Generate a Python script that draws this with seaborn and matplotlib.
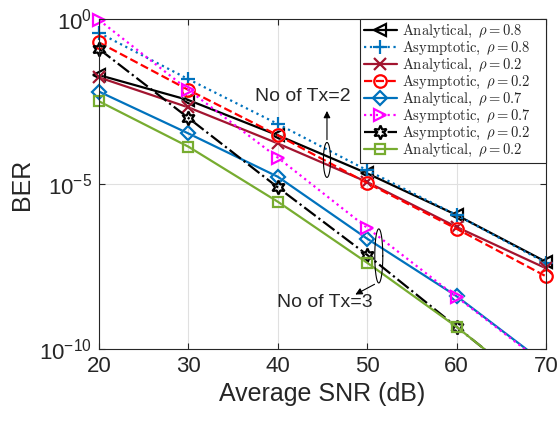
import numpy as np
import matplotlib
matplotlib.use("Agg")
import matplotlib.pyplot as plt
import seaborn as sns
from matplotlib.lines import Line2D
from matplotlib.ticker import FixedLocator, FixedFormatter, NullLocator

# SNR in dB
snr = [20, 30, 40, 50, 60, 70]

# BER values
ana_08 = [2.0e-2, 3.5e-3, 3.0e-4, 2.1e-5, 1.15e-6, 4.4e-8]
asy_08 = [3.8e-1, 1.5e-2, 6.6e-4, 2.6e-5, 1.15e-6, 4.1e-8]
ana_02 = [1.7e-2, 2.1e-3, 1.7e-4, 1.15e-5, 5.0e-7, 2.8e-8]
asy_02 = [1.95e-1, 7.1e-3, 3.0e-4, 1.07e-5, 4.4e-7, 1.6e-8]
ana_07_tx3 = [6.3e-3, 3.4e-4, 1.66e-5, 2.2e-7, 4.0e-9, 3.5e-11]
asy_07_tx3 = [9.3e-1, 7.1e-3, 6.3e-5, 4.7e-7, 3.8e-9, 3.2e-11]
asy_02_tx3 = [1.23e-1, 1.0e-3, 7.9e-6, 7.1e-8, 4.7e-10, 3.2e-12]
ana_02_tx3 = [3.2e-3, 1.35e-4, 2.9e-6, 4.1e-8, 4.7e-10, 3.2e-12]

labels = [r"$\mathrm{Analytical},\ \rho = 0.8$", r"$\mathrm{Asymptotic},\ \rho = 0.8$",
          r"$\mathrm{Analytical},\ \rho = 0.2$", r"$\mathrm{Asymptotic},\ \rho = 0.2$",
          r"$\mathrm{Analytical},\ \rho = 0.7$", r"$\mathrm{Asymptotic},\ \rho = 0.7$",
          r"$\mathrm{Asymptotic},\ \rho = 0.2$", r"$\mathrm{Analytical},\ \rho = 0.2$"]

series = [ana_08, asy_08, ana_02, asy_02, ana_07_tx3, asy_07_tx3, asy_02_tx3, ana_02_tx3]
styles = [
    dict(color="black", linestyle="-", marker="<"),
    dict(color="#0072BD", linestyle=":", marker="+"),
    dict(color="#A2142F", linestyle="-", marker="x"),
    dict(color="red", linestyle="--", marker="o"),
    dict(color="#0072BD", linestyle="-", marker="D"),
    dict(color="magenta", linestyle=":", marker=">"),
    dict(color="black", linestyle="-.", marker=(6, 1, 0)),
    dict(color="#77AC30", linestyle="-", marker="s"),
]
msizes = [9, 10, 9, 9, 7, 9, 10, 7]

sns.set_style("white")
plt.rcParams["font.family"] = ["Liberation Sans", "DejaVu Sans"]
plt.rcParams["mathtext.fontset"] = "custom"
plt.rcParams["mathtext.rm"] = "cmr10"
plt.rcParams["mathtext.it"] = "cmmi10"
plt.rcParams["mathtext.sf"] = "Liberation Sans"

fig, ax = plt.subplots(figsize=(5.57, 4.24), dpi=100)
fig.subplots_adjust(left=0.178, right=0.980, top=0.955, bottom=0.177)

x = np.array(snr)
handles = []
for vals, st, ms in zip(series, styles, msizes):
    y = np.array(vals)
    sns.lineplot(x=x, y=y, ax=ax, linewidth=1.6, markersize=ms,
                 markerfacecolor="none", markeredgewidth=1.6, **st)
    # markers inside the y range drawn unclipped, like MATLAB does
    m = y >= 1e-10
    ax.plot(x[m], y[m], linestyle="none", marker=st["marker"], color=st["color"],
            markersize=ms, markerfacecolor="none", markeredgewidth=1.6, clip_on=False)
    handles.append(Line2D([], [], linewidth=1.6, markersize=ms, markerfacecolor="none",
                          markeredgewidth=1.6, **st))

ax.set_yscale("log")
ax.set_xlim(20, 70)
ax.set_ylim(1e-10, 1)
ax.xaxis.set_major_locator(FixedLocator([20, 30, 40, 50, 60, 70]))
ax.yaxis.set_major_locator(FixedLocator([1e-10, 1e-5, 1]))
ax.yaxis.set_major_formatter(FixedFormatter([r"$\mathsf{10^{-10}}$", r"$\mathsf{10^{-5}}$", r"$\mathsf{10^{0}}$"]))
ax.yaxis.set_minor_locator(NullLocator())
ax.tick_params(direction="in", length=4, width=0.8, labelsize=16, colors="#262626",
               top=True, right=True, bottom=True, left=True, pad=5)
ax.grid(True, color="#e0e0e0", linewidth=0.8)
ax.set_axisbelow(True)
for s in ax.spines.values():
    s.set_color("#262626")
    s.set_linewidth(0.8)

ax.set_xlabel("Average SNR (dB)", fontsize=18, color="#262626")
ax.set_ylabel("BER", fontsize=18, color="#262626")

# ellipses and notes for the two groups
t = np.linspace(0, 2 * np.pi, 200)
ax.plot(45.5 + 0.4 * np.cos(t), 10 ** (-4.27 + 0.53 * np.sin(t)), color="black", lw=0.8)
ax.plot(51.3 + 0.45 * np.cos(t), 10 ** (-7.18 + 0.82 * np.sin(t)), color="black", lw=0.8)
ax.annotate("", xy=(45.5, 10 ** -2.7), xytext=(45.5, 10 ** -3.74),
            arrowprops=dict(arrowstyle="-|>", color="black", lw=0.8, mutation_scale=10))
ax.annotate("", xy=(48.4, 10 ** -8.39), xytext=(51.1, 10 ** -8.0),
            arrowprops=dict(arrowstyle="-|>", color="black", lw=0.8, mutation_scale=10))
ax.text(42.8, 10 ** -2.36, "No of Tx=2", fontsize=14, ha="center", va="center")
ax.text(45.25, 10 ** -8.6, "No of Tx=3", fontsize=14, ha="center", va="center")

# expand mode stretches the box to MATLAB's wider legend frame
leg = ax.legend(handles=handles, labels=labels, loc="upper right",
                bbox_to_anchor=(0.584, 0.0, 0.416, 1.0), mode="expand", borderaxespad=0,
                fontsize=10.5, handlelength=2.3, labelspacing=0.0, fancybox=False,
                edgecolor="#262626", framealpha=1, borderpad=0.25, handletextpad=0.35,
                numpoints=1)
leg.get_frame().set_linewidth(0.8)

fig.savefig("out.png", dpi=100)
